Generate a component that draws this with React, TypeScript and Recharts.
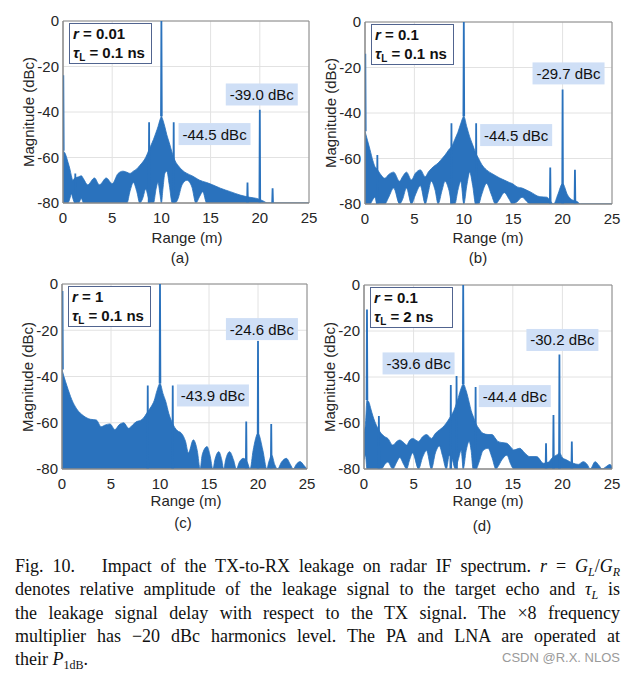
import React from 'react';
import { ComposedChart, Area, Line, XAxis, YAxis, CartesianGrid, ReferenceDot, ReferenceArea } from 'recharts';

const rangeTicks = [0, 5, 10, 15, 20, 25];
const magTicks = [-80, -60, -40, -20, 0];

// ---------- Panel (a): r = 0.01, tauL = 0.1 ns ----------
const rangeA = [0, 0.25, 0.5, 0.7, 0.85, 1.0, 1.2, 1.6, 1.85, 2.1, 2.5, 3.2, 3.7, 4.4, 5.0, 5.6, 6.1, 6.5, 6.8, 7.15, 7.5, 7.8, 8.1, 8.4, 8.7, 8.9, 9.2, 9.45, 9.65, 9.85, 10.0, 10.15, 10.35, 10.55, 10.8, 11.1, 11.4, 11.7, 12.1, 12.6, 13.1, 13.5, 13.9, 14.2, 14.6, 15.2, 16.0, 17.0, 18.0, 19.0, 19.7, 20.3, 20.8, 25];
const upperA = [-57, -58.5, -62, -65, -68, -70, -69, -68.5, -68, -69.5, -72, -69, -72, -69, -71.5, -67, -66, -66.5, -67, -66, -65, -63.5, -62, -60, -57, -55, -52, -49, -46.5, -43.5, -42, -43.5, -46.5, -50, -53.5, -58, -61.5, -63.5, -65.5, -67, -68, -69, -70, -70.5, -71, -72, -73.5, -75, -76.5, -77.5, -78, -79, -80, -80];
const lowerA = [-80, -80, -80, -78, -76, -78, -80, -80, -78, -80, -80, -80, -80, -80, -80, -80, -80, -80, -75, -71, -75, -80, -78, -74, -78, -80, -80, -74, -71, -76, -80, -74, -67, -66, -72, -80, -80, -78, -72, -70, -73, -80, -77, -75, -80, -80, -80, -80, -80, -80, -80, -80, -80, -80];
const spikePosA = [0.03, 1.25, 8.75, 10, 11.25, 18.75, 20, 21.3];
const spikeTopA = [-23.8, -67, -44.5, 0, -44.5, -71, -39, -73.5];
const spikeBaseA = [-57, -80, -80, -42, -80, -80, -80, -80];
const noteTextA = ['-39.0 dBc', '-44.5 dBc'];
const noteXA = [20.2, 15.4];
const noteYA = [-32.3, -49.7];

// ---------- Panel (b): r = 0.1, tauL = 0.1 ns ----------
const rangeB = [0, 0.25, 0.5, 0.8, 1.0, 1.2, 1.5, 2.0, 2.4, 2.9, 3.5, 3.8, 4.2, 4.7, 5.1, 5.6, 6.1, 6.4, 6.7, 7.1, 7.4, 7.8, 8.1, 8.5, 8.8, 9.1, 9.4, 9.7, 10.0, 10.3, 10.6, 10.9, 11.2, 11.5, 11.8, 12.3, 12.8, 13.2, 13.6, 14.1, 14.6, 14.9, 15.4, 15.9, 16.4, 16.7, 17.7, 18.4, 19.1, 19.5, 20.0, 20.5, 20.9, 21.5, 21.8, 25];
const upperB = [-48, -52, -56, -61, -63.5, -64.5, -66.5, -68.7, -67, -66, -70, -68, -66, -69.4, -66.5, -65, -68, -66, -64.5, -63, -62, -60, -58.5, -56, -54.5, -51.5, -48.5, -44.5, -41.5, -46, -50.5, -54, -57.5, -60, -62.5, -65, -66.5, -67.5, -68.5, -69.5, -70.5, -71, -72.5, -73, -74, -74.6, -76.8, -77, -80, -76, -71, -76, -78, -79, -80, -80];
const lowerB = [-80, -80, -80, -78, -77, -80, -80, -80, -77, -73, -80, -78, -73, -80, -76, -72, -80, -75, -70, -74, -80, -74, -70, -74, -80, -80, -74, -70, -80, -72, -66, -72, -80, -80, -76, -71, -76, -80, -78, -75, -78, -80, -79, -77, -79, -80, -80, -80, -80, -80, -80, -80, -80, -80, -80, -80];
const spikePosB = [0.03, 1.25, 8.75, 10, 11.25, 18.75, 20, 21.25];
const spikeTopB = [-14, -58.5, -44.5, 0, -44.5, -64, -29.7, -65];
const spikeBaseB = [-48, -80, -80, -41.5, -80, -80, -80, -80];
const noteTextB = ['-29.7 dBc', '-44.5 dBc'];
const noteXB = [20.6, 15.3];
const noteYB = [-22.6, -49.7];

// ---------- Panel (c): r = 1, tauL = 0.1 ns ----------
const rangeC = [0, 0.2, 0.5, 1.0, 1.5, 2.2, 2.9, 3.5, 4.0, 4.4, 4.9, 5.4, 5.8, 6.3, 6.8, 7.2, 7.6, 8.0, 8.3, 8.7, 9.1, 9.4, 9.7, 10.0, 10.3, 10.6, 10.9, 11.2, 11.5, 11.8, 12.2, 12.6, 12.9, 13.4, 13.8, 14.1, 14.3, 14.8, 15.1, 15.4, 15.6, 16.0, 16.3, 16.5, 16.7, 17.1, 17.5, 17.8, 18.1, 18.5, 18.9, 19.2, 19.5, 20.0, 20.5, 20.9, 21.1, 21.4, 21.7, 22.0, 22.4, 22.9, 23.3, 23.6, 23.9, 24.3, 24.7, 25];
const upperC = [-37, -40, -44, -50, -54, -57, -58.5, -58.8, -61.7, -61, -60.5, -63, -61, -60, -62.4, -61, -59.5, -59, -58, -55.5, -53, -50.5, -46, -43, -47.3, -51, -56, -59.5, -62, -63.5, -64.6, -68, -73, -67.4, -72, -80, -74, -70.3, -74, -80, -76, -72.5, -76, -80, -76, -72.5, -76, -80, -77, -75.4, -77, -80, -72, -64.6, -72, -80, -77, -74, -78, -80, -77, -75.4, -78, -80, -78, -76.8, -78.5, -80];
const lowerC = [-80, -80, -80, -80, -80, -80, -80, -80, -80, -80, -80, -80, -80, -80, -80, -80, -80, -80, -80, -80, -80, -80, -80, -80, -80, -80, -80, -80, -80, -80, -80, -80, -80, -80, -80, -80, -80, -80, -80, -80, -80, -80, -80, -80, -80, -80, -80, -80, -80, -80, -80, -80, -80, -80, -80, -80, -80, -80, -80, -80, -80, -80, -80, -80, -80, -80, -80, -80];
const spikePosC = [0.05, 8.75, 10, 11.3, 18.8, 20, 21.35];
const spikeTopC = [-3, -43.9, 0, -43.9, -59.5, -24.6, -60.5];
const spikeBaseC = [-37, -80, -43, -80, -80, -80, -80];
const noteTextC = ['-24.6 dBc', '-43.9 dBc'];
const noteXC = [20.4, 15.4];
const noteYC = [-19.5, -48.2];

// ---------- Panel (d): r = 0.1, tauL = 2 ns ----------
const rangeD = [0, 0.15, 0.3, 0.5, 0.7, 0.9, 1.25, 1.75, 2.1, 2.4, 2.9, 3.3, 3.6, 4.0, 4.3, 4.6, 4.9, 5.5, 5.9, 6.3, 6.8, 7.2, 7.6, 7.9, 8.3, 8.6, 8.9, 9.2, 9.5, 9.8, 10.0, 10.3, 10.6, 10.8, 11.0, 11.3, 11.6, 12.0, 12.5, 12.9, 13.3, 13.5, 13.9, 14.4, 14.8, 15.1, 15.7, 16.2, 16.7, 17.4, 18.1, 18.6, 19.0, 19.4, 19.7, 20.0, 20.4, 21.1, 21.6, 22.1, 22.5, 22.8, 23.3, 23.7, 24.0, 24.4, 24.8, 25];
const upperD = [-64, -60, -50, -51, -54, -57, -61, -64.6, -66, -66.7, -69.6, -68, -67.4, -68.5, -69.6, -67.5, -66.7, -68, -66, -65, -66.7, -64.5, -63, -62, -60, -58, -56, -53, -49, -44.8, -43, -46, -51, -54.6, -57, -60.4, -62.5, -64.5, -65, -65, -67, -68, -68.5, -68.8, -70.5, -71.7, -71, -73, -74.6, -74.6, -77.5, -77, -75, -74, -73, -75, -76, -77.5, -78, -76.8, -78, -80, -76.8, -78.5, -80, -79, -78, -79];
const lowerD = [-76, -74, -80, -80, -80, -80, -80, -80, -78, -77, -80, -77, -75, -78, -80, -76, -73, -80, -75, -72, -80, -73, -70, -74, -80, -74, -76, -80, -76, -72, -80, -72, -68, -72, -80, -80, -77, -72, -71, -75, -80, -79, -76, -74, -78, -80, -80, -80, -80, -80, -80, -80, -80, -80, -80, -80, -80, -80, -80, -80, -80, -80, -80, -80, -80, -80, -80, -80];
const spikePosD = [0.3, 1.5, 8.75, 9.33, 10, 11.25, 18.35, 19.1, 19.7, 20.95];
const spikeTopD = [-10.6, -57, -43.5, -39.6, 0, -44.4, -68.8, -56.5, -30.2, -68];
const spikeBaseD = [-50, -80, -80, -80, -43, -80, -80, -80, -80, -80];
const noteTextD = ['-30.2 dBc', '-39.6 dBc', '-44.4 dBc'];
const noteXD = [20.0, 5.5, 15.2];
const noteYD = [-23.9, -34.1, -48.3];

const BLUE = '#2a72bd';
const SANS = '"Liberation Sans", Arial, Helvetica, sans-serif';
const SERIF = '"Liberation Serif", "Times New Roman", serif';

type PanelProps = {
  px: number; py: number; pw: number; ph: number;
  range: number[]; upper: number[]; lower: number[];
  spikePos: number[]; spikeTop: number[]; spikeBase: number[];
  noteText: string[]; noteX: number[]; noteY: number[];
  rText: string; tauText: string;
  sub: string; subX: number; subY: number; rangeX: number; rangeY: number;
};

function Txt({ x, y, children, style }: any) {
  return (
    <div style={{ position: 'absolute', left: x, top: y, transform: 'translate(-50%, -50%)', whiteSpace: 'nowrap', fontFamily: SANS, fontSize: 15, color: '#262626', lineHeight: 1, ...style }}>
      {children}
    </div>
  );
}

function Panel(p: PanelProps) {
  const ML = 63, MT = 21, MR = 10, XH = 30;
  const rows = p.range.map((x, i) => ({ x, band: [p.lower[i], p.upper[i]] }));
  return (
    <>
      <div style={{ position: 'absolute', left: p.px - ML, top: p.py - MT }}>
        <ComposedChart width={ML + p.pw + MR} height={MT + p.ph + XH} data={rows} margin={{ top: MT, right: MR, bottom: 0, left: 0 }}>
          <CartesianGrid stroke="#e2e2e2" strokeWidth={1} />
          <XAxis dataKey="x" type="number" domain={[0, 25]} ticks={rangeTicks} allowDataOverflow height={XH}
            tickLine={false} axisLine={{ stroke: '#8a8a8a' }} tickSize={6} tickMargin={3}
            tick={{ fontSize: 15, fill: '#262626', fontFamily: SANS }} interval={0} />
          <YAxis type="number" domain={[-80, 0]} ticks={magTicks} allowDataOverflow width={ML}
            tickLine={false} axisLine={{ stroke: '#8a8a8a' }} tickSize={4} tickMargin={0}
            tick={{ fontSize: 15, fill: '#262626', fontFamily: SANS }} interval={0} />
          <Area dataKey="band" type="monotone" fill={BLUE} fillOpacity={1} stroke={BLUE} strokeWidth={0.8} isAnimationActive={false} dot={false} activeDot={false} />
          {p.spikePos.map((s, i) => (
            <Line key={i} data={[{ x: s - 0.04, y: p.spikeBase[i] }, { x: s, y: p.spikeTop[i] }, { x: s + 0.04, y: p.spikeBase[i] }]}
              dataKey="y" type="linear" stroke={BLUE} strokeWidth={1.8} dot={false} activeDot={false} isAnimationActive={false} />
          ))}
          <ReferenceArea x1={0} x2={25} y1={-80} y2={0} fill="none" stroke="#8a8a8a" strokeWidth={1} ifOverflow="visible" />
          {p.noteText.map((t, i) => (
            <ReferenceDot key={'n' + i} x={p.noteX[i]} y={p.noteY[i]} r={0} isFront
              shape={(s: any) => (
                <g>
                  <rect x={s.cx - 36} y={s.cy - 11} width={72} height={22} fill="#cfdff6" />
                  <text x={s.cx} y={s.cy + 5.5} textAnchor="middle" fontSize={15} fontFamily={SANS} fill="#111">{t}</text>
                </g>
              )} />
          ))}
        </ComposedChart>
      </div>
      <div style={{ position: 'absolute', left: p.px + 6, top: p.py + 2, width: 83, height: 41, boxSizing: 'border-box', border: '1px solid #51648f', background: '#fff', fontFamily: SANS, fontWeight: 'bold', fontSize: 15, lineHeight: '19px', paddingLeft: 3, color: '#111', whiteSpace: 'nowrap' }}>
        <div><i>r</i> = {p.rText}</div>
        <div><i>τ</i><span style={{ fontSize: 10, position: 'relative', top: 3 }}>L</span> = {p.tauText}</div>
      </div>
      <Txt x={p.px - 35} y={p.py + p.ph / 2} style={{ transform: 'translate(-50%, -50%) rotate(-90deg)' }}>Magnitude (dBc)</Txt>
      <Txt x={p.rangeX} y={p.rangeY}>Range (m)</Txt>
      <Txt x={p.subX} y={p.subY}>{p.sub}</Txt>
    </>
  );
}

export default function App() {
  const lineStyle: any = { height: 23.3, lineHeight: '23.3px', textAlign: 'justify', textAlignLast: 'justify', whiteSpace: 'nowrap' };
  const subS: any = { fontSize: 12, position: 'relative', top: 4, lineHeight: 0 };
  return (
    <div style={{ position: 'absolute', left: 0, top: 0, width: 634, height: 673, background: '#fff', overflow: 'hidden' }}>
      <Panel px={63} py={21} pw={246} ph={182} range={rangeA} upper={upperA} lower={lowerA}
        spikePos={spikePosA} spikeTop={spikeTopA} spikeBase={spikeBaseA}
        noteText={noteTextA} noteX={noteXA} noteY={noteYA} rText="0.01" tauText="0.1 ns"
        sub="(a)" subX={180} subY={257} rangeX={187} rangeY={237} />
      <Panel px={365} py={22} pw={247} ph={182} range={rangeB} upper={upperB} lower={lowerB}
        spikePos={spikePosB} spikeTop={spikeTopB} spikeBase={spikeBaseB}
        noteText={noteTextB} noteX={noteXB} noteY={noteYB} rText="0.1" tauText="0.1 ns"
        sub="(b)" subX={478} subY={257} rangeX={488} rangeY={237} />
      <Panel px={62} py={284} pw={245} ph={185} range={rangeC} upper={upperC} lower={lowerC}
        spikePos={spikePosC} spikeTop={spikeTopC} spikeBase={spikeBaseC}
        noteText={noteTextC} noteX={noteXC} noteY={noteYC} rText="1" tauText="0.1 ns"
        sub="(c)" subX={183} subY={522} rangeX={186} rangeY={500} />
      <Panel px={364} py={285} pw={248} ph={184} range={rangeD} upper={upperD} lower={lowerD}
        spikePos={spikePosD} spikeTop={spikeTopD} spikeBase={spikeBaseD}
        noteText={noteTextD} noteX={noteXD} noteY={noteYD} rText="0.1" tauText="2 ns"
        sub="(d)" subX={482} subY={525} rangeX={488} rangeY={500} />
      <div style={{ position: 'absolute', left: 15, top: 555, width: 605, fontFamily: SERIF, fontSize: 18, color: '#111' }}>
        <div style={lineStyle}>Fig. 10.&nbsp;&nbsp; Impact of the TX-to-RX leakage on radar IF spectrum. <i>r</i> = <i>G</i><span style={subS}><i>L</i></span>/<i>G</i><span style={subS}><i>R</i></span></div>
        <div style={lineStyle}>denotes relative amplitude of the leakage signal to the target echo and <i>τ</i><span style={subS}><i>L</i></span> is</div>
        <div style={lineStyle}>the leakage signal delay with respect to the TX signal. The ×8 frequency</div>
        <div style={lineStyle}>multiplier has −20 dBc harmonics level. The PA and LNA are operated at</div>
        <div style={{ ...lineStyle, textAlignLast: 'left', textAlign: 'left' }}>their <i>P</i><span style={subS}>1dB</span>.</div>
      </div>
      <div style={{ position: 'absolute', right: 14, top: 650, fontFamily: SANS, fontSize: 13, color: '#9a9a9a', whiteSpace: 'nowrap' }}>CSDN @R.X. NLOS</div>
    </div>
  );
}
